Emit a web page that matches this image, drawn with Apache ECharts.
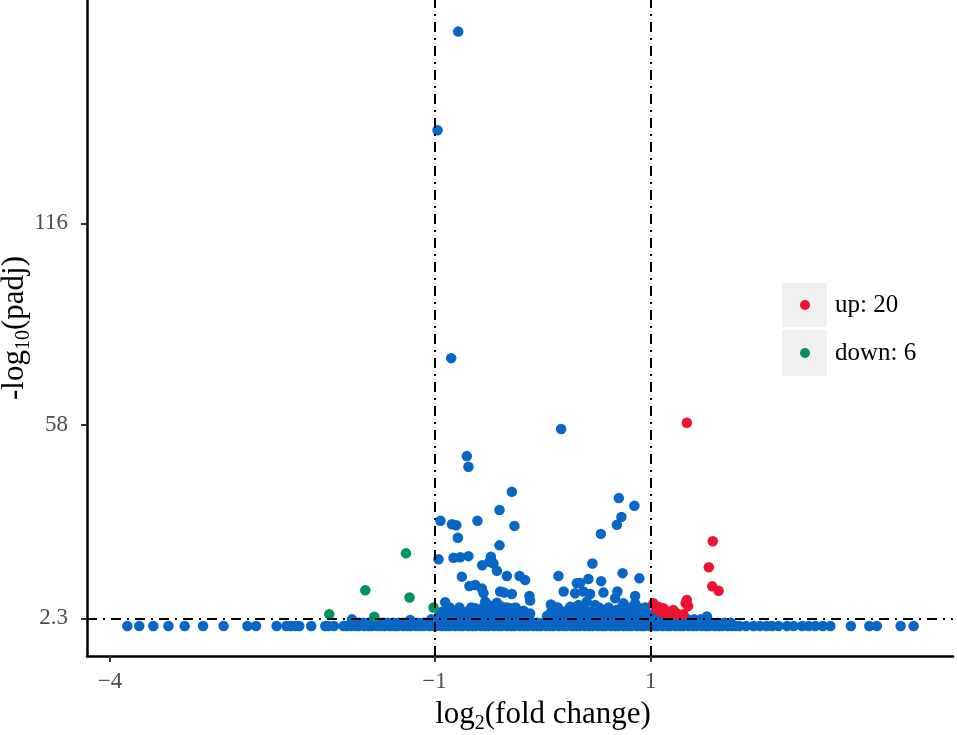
<!DOCTYPE html>
<html>
<head>
<meta charset="utf-8">
<title>volcano</title>
<script src="https://cdn.jsdelivr.net/npm/echarts@6/dist/echarts.min.js"></script>
<style>
  html, body { margin: 0; padding: 0; background: #fff; }
  .chart { width: 957px; height: 735px; }
</style>
</head>
<body>
<div class="chart"></div>
<script>
// 坐标轴刻度
var xTicks = [-4, -1, 1];
var yTicks = [2.3, 58, 116];
// 阈值线
var fcCut = [-1, 1];
var padjCut = 2.3;
// 图例
var legendNames = ['up: 20', 'down: 6'];

// 上调 (红)
var upPoints = [
  [1.333, 58.6], [1.573, 24.5], [1.536, 17.0], [1.568, 11.5], [1.627, 10.2],
  [1.024, 6.6], [1.070, 5.6], [1.116, 5.2], [1.163, 4.2], [1.209, 4.7],
  [1.333, 7.6], [1.322, 6.6], [1.301, 3.5], [1.194, 3.3], [1.049, 5.0],
  [1.095, 4.1], [1.132, 3.5], [1.233, 3.8], [1.345, 5.8], [1.263, 3.3]
];
// 下调 (绿)
var downPoints = [
  [-1.264, 21.0], [-1.640, 10.4], [-1.231, 8.3], [-1.973, 3.45], [-1.557, 2.76], [-1.009, 5.4]
];
// 不显著 (蓝) 上方散点
var bluePoints = [
  [-0.781, 171.2], [-0.972, 142.8], [-0.846, 77.2], [0.171, 56.8], [-0.701, 49.0],
  [-0.686, 45.9], [-0.285, 38.7], [0.704, 36.9], [0.848, 34.7], [0.728, 31.5],
  [0.686, 29.2], [-0.399, 33.5], [-0.945, 30.4], [-0.839, 29.4], [-0.799, 29.1],
  [-0.603, 30.4], [-0.261, 28.9], [-0.784, 25.5], [0.538, 26.6], [-0.399, 23.3],
  [-0.963, 19.3], [-0.824, 19.7], [-0.762, 19.9], [-0.686, 20.2], [-0.479, 20.0],
  [-0.492, 18.6], [-0.455, 18.1], [-0.559, 17.6], [-0.423, 16.0], [0.460, 18.1],
  [-0.747, 14.3], [-0.331, 14.5], [-0.214, 14.5], [-0.162, 13.3], [0.146, 14.5],
  [0.316, 12.4], [0.347, 12.5], [0.423, 13.6], [0.541, 13.0], [0.739, 15.3],
  [0.894, 13.8], [0.194, 10.0], [0.300, 9.5], [0.377, 10.0], [0.439, 9.3],
  [0.562, 9.7], [0.691, 10.0], [0.670, 8.1], [0.855, 8.7], [-0.677, 11.6],
  [-0.624, 11.9], [-0.562, 10.9], [-0.547, 9.5], [-0.393, 10.0], [-0.356, 9.7],
  [-0.285, 9.3], [-0.122, 8.7], [-0.116, 7.4], [-0.901, 6.9], [0.076, 6.3],
  [0.106, 5.6], [-0.531, 7.1], [-0.501, 6.1], [-0.423, 6.8], [-0.377, 5.6],
  [-0.624, 5.2], [-0.701, 4.2], [-0.839, 3.7], [-0.300, 5.2], [-0.238, 4.7],
  [-0.177, 4.5], [-0.116, 3.7], [0.131, 3.7], [0.192, 4.2], [-0.578, 3.7],
  [-0.455, 4.2], [0.408, 7.1], [0.747, 6.6], [0.855, 6.6], [0.901, 5.2],
  [0.254, 5.6], [0.331, 6.1], [0.485, 6.1], [0.562, 4.7], [0.686, 4.7],
  [0.224, 4.2], [0.316, 4.2], [0.469, 4.2], [0.593, 3.7], [0.778, 4.2],
  [0.871, 4.2], [0.978, 3.3], [1.518, 2.8], [-1.763, 2.0], [-1.225, 1.8]
];
// 底部密集带 (padj 不显著), 每行一个高度
var leftTailX = [-3.84, -3.73, -3.60, -3.46, -3.31, -3.14, -2.95, -2.73, -2.65, -2.46,
  -2.37, -2.33, -2.29, -2.25, -2.14, -2.01, -1.98, -1.93, -1.84, -1.81];
var rightTailX = [1.82, 1.88, 1.95, 2.01, 2.07, 2.12, 2.18, 2.26, 2.32, 2.40,
  2.46, 2.52, 2.59, 2.66, 2.85, 3.02, 3.09, 3.31, 3.43];
var tailY = 0.1;
var bandLowX = [-1.77, -1.73, -1.70, -1.65, -1.61, -1.58, -1.53, -1.49, -1.46, -1.41,
  -1.37, -1.34, -1.29, -1.25, -1.22, -1.17, -1.13, -1.10, -1.05, -1.01,
  -0.98, -0.93, -0.89, -0.86, -0.81, -0.77, -0.74, -0.69, -0.65, -0.62,
  -0.57, -0.53, -0.50, -0.45, -0.41, -0.38, -0.33, -0.29, -0.26, -0.21,
  -0.17, -0.14, -0.09, -0.05, -0.02, 0.03, 0.07, 0.10, 0.15, 0.19,
  0.22, 0.27, 0.31, 0.34, 0.39, 0.43, 0.46, 0.51, 0.55, 0.58,
  0.63, 0.67, 0.70, 0.75, 0.79, 0.82, 0.87, 0.91, 0.94, 0.99,
  1.03, 1.06, 1.11, 1.15, 1.18, 1.23, 1.27, 1.30, 1.35, 1.39,
  1.42, 1.47, 1.51, 1.54, 1.59, 1.63, 1.66, 1.71, 1.75, 1.79];
var bandLowY = 0.1;
var bandMidX = [-1.75, -1.70, -1.66, -1.61, -1.56, -1.52, -1.47, -1.43, -1.38, -1.33,
  -1.29, -1.24, -1.20, -1.15, -1.10, -1.06, -1.01, -0.97, -0.92, -0.87,
  -0.83, -0.78, -0.74, -0.69, -0.64, -0.60, -0.55, -0.51, -0.46, -0.41,
  -0.37, -0.32, -0.28, -0.23, -0.18, -0.14, -0.09, -0.05, 0.00, 0.05,
  0.09, 0.14, 0.18, 0.23, 0.28, 0.32, 0.37, 0.41, 0.46, 0.51,
  0.55, 0.60, 0.64, 0.69, 0.74, 0.78, 0.83, 0.87, 0.92, 0.97,
  1.01, 1.06, 1.10, 1.15, 1.20, 1.24, 1.29, 1.33, 1.38, 1.43,
  1.47, 1.52, 1.57, 1.62, 1.68, 1.74];
var bandMidY = 1.0;
var bandHighX = [-1.03, -0.98, -0.93, -0.88, -0.84, -0.79, -0.74, -0.69, -0.65, -0.60,
  -0.55, -0.50, -0.46, -0.41, -0.36, -0.31, -0.27, -0.22, -0.17, -0.12,
  0.06, 0.11, 0.16, 0.21, 0.26, 0.30, 0.35, 0.40, 0.45, 0.50,
  0.54, 0.59, 0.64, 0.69, 0.74, 0.78, 0.83, 0.88, 0.93, 0.98,
  1.03, 1.08, 1.13, 1.18, 1.23, 1.28, 1.34, 1.40, 1.46];
var bandHighY = 2.0;
var bandTopX = [-0.96, -0.90, -0.86, -0.80, -0.75, -0.69, -0.64, -0.58, -0.53, -0.47,
  -0.43, -0.37, -0.31, -0.26, -0.20, -0.15, 0.04, 0.09, 0.15, 0.21,
  0.26, 0.32, 0.37, 0.43, 0.49, 0.54, 0.60, 0.65, 0.71, 0.76,
  0.82, 0.88, 0.93, 0.99, 1.05, 1.12, 1.20];
var bandTopY = 3.0;
var bandUpperX = [-0.93, -0.87, -0.82, -0.76, -0.70, -0.64, -0.58, -0.52, -0.47, -0.41,
  -0.35, -0.29, -0.23, -0.17, 0.08, 0.14, 0.20, 0.26, 0.32, 0.38,
  0.44, 0.50, 0.56, 0.62, 0.68, 0.74, 0.80, 0.86, 0.92];
var bandUpperY = 4.2;
var bandSparseX = [-0.86, -0.77, -0.66, -0.55, -0.46, -0.33, -0.25, 0.14, 0.29, 0.38,
  0.52, 0.61, 0.73, 0.81, 0.95];
var bandSparseY = 5.4;

(function () {
  var myChart = echarts.init(document.querySelector('.chart'));
  var serif = '"Liberation Serif", "Times New Roman", serif';

  // 把每行x和高度拼成点
  function row(xs, y) {
    return xs.map(function (x) { return [x, y]; });
  }
  var blueAll = []
    .concat(row(leftTailX, tailY), row(rightTailX, tailY))
    .concat(row(bandLowX, bandLowY), row(bandMidX, bandMidY))
    .concat(row(bandHighX, bandHighY), row(bandTopX, bandTopY))
    .concat(row(bandUpperX, bandUpperY), row(bandSparseX, bandSparseY))
    .concat(bluePoints);

  function minus(v) {
    return v < 0 ? '\u2212' + Math.abs(v) : String(v);
  }

  // 轴标题下标
  var subRich = { s: { fontSize: 20, fontFamily: serif, color: '#000', padding: [18, 0, 0, 0] } };

  var option = {
    animation: false,
    textStyle: { fontFamily: serif },
    grid: { left: 87, right: 4, top: 0, bottom: 79, outerBoundsMode: 'none' },
    // 图例背景灰块
    graphic: [
      { type: 'rect', shape: { x: 782, y: 283, width: 45, height: 44 }, style: { fill: '#f0f0f0' }, z: -1 },
      { type: 'rect', shape: { x: 782, y: 330, width: 45, height: 46 }, style: { fill: '#f0f0f0' }, z: -1 }
    ],
    legend: {
      data: legendNames,
      orient: 'vertical',
      left: 800,
      top: 292,
      padding: 0,
      icon: 'circle',
      itemWidth: 40,
      itemHeight: 10,
      itemGap: 22,
      textStyle: { color: '#000', fontSize: 25, fontFamily: serif, lineHeight: 26, padding: [0, 0, 0, 5] }
    },
    xAxis: {
      type: 'value',
      min: -4.213,
      max: 3.794,
      splitLine: { show: false },
      axisLine: { onZero: false, lineStyle: { color: '#000', width: 2.5 } },
      axisTick: { customValues: xTicks, length: 6, lineStyle: { color: '#333', width: 2 } },
      axisLabel: { customValues: xTicks, formatter: minus, color: '#4d4d4d', fontSize: 23, fontFamily: serif, margin: 14 },
      name: 'log{s|2}(fold change)',
      nameLocation: 'middle',
      nameMoveOverlap: false,
      nameGap: 40,
      nameTextStyle: { color: '#000', fontSize: 31, fontFamily: serif, padding: [0, 0, 0, 46], rich: subRich }
    },
    yAxis: {
      type: 'value',
      min: -8.55,
      max: 180.3,
      splitLine: { show: false },
      axisLine: { onZero: false, lineStyle: { color: '#000', width: 2.5 } },
      axisTick: { customValues: yTicks, length: 6, lineStyle: { color: '#333', width: 2 } },
      axisLabel: { customValues: yTicks, color: '#4d4d4d', fontSize: 23, fontFamily: serif, margin: 19 },
      name: '-log{s|10}(padj)',
      nameLocation: 'middle',
      nameRotate: 90,
      nameMoveOverlap: false,
      nameGap: 53,
      nameTextStyle: { color: '#000', fontSize: 31, fontFamily: serif, rich: subRich }
    },
    series: [{
      name: 'normal',
      type: 'scatter',
      symbolSize: 10.5,
      itemStyle: { color: '#0866c6', opacity: 1 },
      data: blueAll
    }, {
      name: legendNames[0],
      type: 'scatter',
      symbolSize: 10.5,
      itemStyle: { color: '#ee1133', opacity: 1 },
      data: upPoints
    }, {
      name: legendNames[1],
      type: 'scatter',
      symbolSize: 10.5,
      itemStyle: { color: '#00935f', opacity: 1 },
      data: downPoints
    }, {
      // 阈值虚线放在最上层
      name: 'cut',
      type: 'scatter',
      data: [],
      z: 10,
      markLine: {
        silent: true,
        symbol: 'none',
        animation: false,
        label: { show: false },
        lineStyle: { color: '#000', width: 2, type: [10, 6, 2, 6] },
        data: [{ xAxis: fcCut[0] }, { xAxis: fcCut[1] }, { yAxis: padjCut }]
      }
    }]
  };
  myChart.setOption(option);

  window.addEventListener('resize', function () {
    myChart.resize();
  });
})();
</script>
</body>
</html>
